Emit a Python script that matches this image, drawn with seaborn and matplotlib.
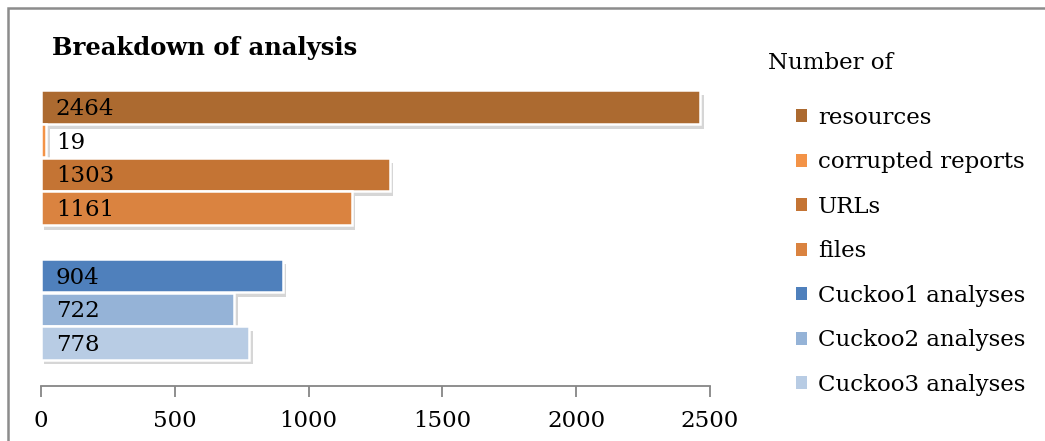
import matplotlib
matplotlib.use("Agg")
import matplotlib.pyplot as plt
import matplotlib.patheffects as pe
from matplotlib.patches import Rectangle, Patch
import seaborn as sns
import pandas as pd

# Series shown in the breakdown (top to bottom)
series = ["resources", "corrupted reports", "URLs", "files",
          "Cuckoo1 analyses", "Cuckoo2 analyses", "Cuckoo3 analyses"]
values = [2464, 19, 1303, 1161, 904, 722, 778]
colors = ["#AC6A30", "#F39347", "#C47434", "#DA8340",
          "#4F80BC", "#95B3D7", "#B8CCE4"]
# slot index of each bar; slot 4 is left empty between the two groups
slots = [0, 1, 2, 3, 5, 6, 7]
xticks = [0, 500, 1000, 1500, 2000, 2500]

sns.set_theme(style="white")
plt.rcParams["font.family"] = ["DejaVu Serif"]
plt.rcParams["text.color"] = "black"

W, H = 1045, 441
fig = plt.figure(figsize=(W / 100, H / 100), dpi=100)

# outer chart frame
fig.add_artist(Rectangle((8 / W, -0.05), 1.2, 1 - 8 / H + 0.05,
                         transform=fig.transFigure, fill=False,
                         edgecolor="#8C8C8C", linewidth=1.8))

ax = fig.add_axes([41 / W, 55 / H, (710 - 41) / W, (386 - 70) / H])

df = pd.DataFrame({"series": series, "value": values, "slot": slots})
sns.barplot(data=df, x="value", y="slot", hue="series", orient="h",
            palette=dict(zip(series, colors)), hue_order=series,
            order=list(range(8)), dodge=False, width=0.99, saturation=1,
            legend=False, ax=ax)

shadow = [pe.SimplePatchShadow(offset=(2.5, -3.5), shadow_rgbFace="#9a9a9a", alpha=0.4),
          pe.Normal()]
for bar in ax.patches:
    bar.set_edgecolor("white")
    bar.set_linewidth(1.8)
    bar.set_path_effects(shadow)

for v, s in zip(values, slots):
    ax.text(55, s + 0.06, str(v), va="center", ha="left", fontsize=16.5,
            color="black")

ax.set_xlim(0, 2500)
ax.set_ylim(8.28, -1.10)
ax.set_xticks(xticks)
ax.set_xticklabels([str(t) for t in xticks], fontsize=16.5)
ax.set_yticks([])
ax.set_xlabel("")
ax.set_ylabel("")
for side in ["top", "right", "left"]:
    ax.spines[side].set_visible(False)
ax.spines["bottom"].set_color("#868686")
ax.spines["bottom"].set_linewidth(1.3)
ax.tick_params(axis="x", bottom=True, length=8, width=1.3, color="#868686",
               pad=9, labelcolor="black")
ax.patch.set_alpha(0)

fig.text(52 / W, 1 - 48 / H, "Breakdown of analysis", fontsize=17.5,
         fontweight="bold", va="center", ha="left", color="black")

fig.text(768 / W, 1 - 63 / H, "Number of", fontsize=16.5, va="center",
         ha="left", color="black")

handles = [Patch(facecolor=c, edgecolor="none") for c in colors]
leg = fig.legend(handles, series, loc="upper left",
                 bbox_to_anchor=(796 / W, 1 - 107 / H), frameon=False,
                 fontsize=16.5, handlelength=0.5, handleheight=0.5,
                 handletextpad=0.45, labelspacing=0.98, borderpad=0,
                 borderaxespad=0)
for t in leg.get_texts():
    t.set_color("black")

fig.savefig("out.png", dpi=100)
